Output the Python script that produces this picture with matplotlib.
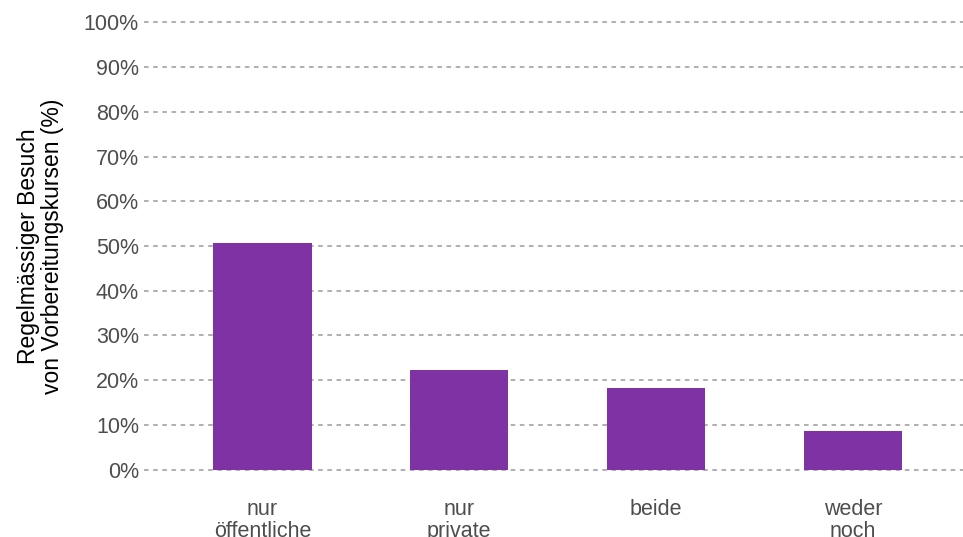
"""Regular attendance of preparation courses by type (bar chart)."""
import matplotlib.pyplot as plt
from matplotlib.ticker import PercentFormatter

plt.rcParams["font.family"] = ["Liberation Sans", "DejaVu Sans"]

categories = ["nur\nöffentliche", "nur\nprivate", "beide", "weder\nnoch"]
shares = [50.7, 22.3, 18.3, 8.7]
y_ticks = list(range(0, 101, 10))

BAR_COLOR = "#7E32A3"
TEXT_COLOR = "#4D4D4D"

fig = plt.figure(figsize=(9.63, 5.37), dpi=100)
ax = fig.add_axes([0.150, 0.084, 0.850, 0.916])

x = range(len(categories))
ax.bar(x, shares, width=0.5, color=BAR_COLOR, zorder=3)

ax.set_xlim(-0.6, 3.56)
ax.set_ylim(-5, 105)
ax.set_yticks(y_ticks)
ax.yaxis.set_major_formatter(PercentFormatter(decimals=0))
ax.set_xticks(list(x))
ax.set_xticklabels(categories, linespacing=1.05)

ax.grid(axis="y", color="#9A9A9A", linestyle=(0, (3, 3)), linewidth=1.1, zorder=0)
ax.grid(axis="x", visible=False)
for spine in ax.spines.values():
    spine.set_visible(False)
ax.tick_params(axis="both", length=0, labelsize=15.5, colors=TEXT_COLOR, pad=4)
ax.tick_params(axis="x", pad=5)

ax.set_ylabel("Regelmässiger Besuch\nvon Vorbereitungskursen (%)",
              fontsize=16.5, color="black", labelpad=14, linespacing=1.05)

fig.savefig("out.png", dpi=100)
